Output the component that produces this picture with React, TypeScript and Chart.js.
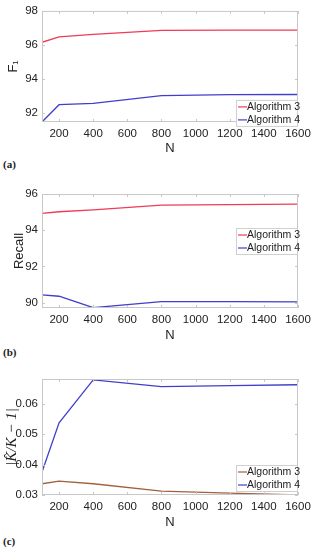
import React, { useEffect, useRef } from "react";
import { Chart, registerables } from "chart.js";

Chart.register(...registerables);

const N = [100, 200, 400, 800, 1200, 1600];
const xTicks = [200, 400, 600, 800, 1000, 1200, 1400, 1600];

const f1Alg3 = [96.15, 96.47, 96.62, 96.85, 96.87, 96.87];
const f1Alg4 = [91.45, 92.47, 92.55, 93.0, 93.06, 93.07];
const f1Ticks = [92, 94, 96, 98];

const recallAlg3 = [94.93, 95.02, 95.12, 95.38, 95.41, 95.44];
const recallAlg4 = [90.43, 90.35, 89.72, 90.05, 90.05, 90.04];
const recallTicks = [90, 92, 94, 96];

const kAlg3 = [0.0337, 0.0346, 0.0337, 0.0313, 0.0306, 0.03];
const kAlg4 = [0.0376, 0.0538, 0.0679, 0.0657, 0.066, 0.0663];
const kTicks = [0.03, 0.04, 0.05, 0.06];

const seriesNames = ["Algorithm 3", "Algorithm 4"];

const RED = "#f03a58";
const BLUE = "#3f3fcc";
const BROWN = "#a2603c";
const FONT = "'Liberation Sans', Arial, sans-serif";

type PanelCfg = {
  a: number[];
  b: number[];
  colorA: string;
  colorB: string;
  yMin: number;
  yMax: number;
  yTicks: number[];
  yTitle: string;
  yTitleFont: any;
  yTitlePad: number;
  tickDecimals: number;
  padTop: number;
  xScaleHeight: number;
  legendTop: number;
  height: number;
};

const framePlugin = {
  id: "frame",
  afterDatasetsDraw(chart: any) {
    const { ctx, chartArea } = chart;
    const { left, right, top, bottom } = chartArea;
    ctx.save();
    ctx.strokeStyle = "#c8c8c8";
    ctx.lineWidth = 1;
    ctx.strokeRect(left + 0.5, top + 0.5, right - left - 1, bottom - top - 1);
    const xs = chart.scales.x;
    const ys = chart.scales.y;
    ctx.beginPath();
    xs.ticks.forEach((t: any) => {
      const px = Math.round(xs.getPixelForValue(t.value)) + 0.5;
      ctx.moveTo(px, bottom);
      ctx.lineTo(px, bottom - 3);
      ctx.moveTo(px, top);
      ctx.lineTo(px, top + 3);
    });
    ys.ticks.forEach((t: any) => {
      const py = Math.round(ys.getPixelForValue(t.value)) + 0.5;
      ctx.moveTo(left, py);
      ctx.lineTo(left + 3, py);
      ctx.moveTo(right, py);
      ctx.lineTo(right - 3, py);
    });
    ctx.stroke();
    ctx.restore();
  },
};

const legendPlugin = {
  id: "boxLegend",
  afterDraw(chart: any) {
    const opts = chart.options.plugins.boxLegend;
    const { ctx, chartArea } = chart;
    const w = 62;
    const h = 27;
    const x = chartArea.right - w;
    const y = chartArea.top + opts.top;
    ctx.save();
    ctx.fillStyle = "#ffffff";
    ctx.fillRect(x, y, w, h);
    ctx.strokeStyle = "#d0d0d0";
    ctx.lineWidth = 1;
    ctx.strokeRect(x + 0.5, y + 0.5, w - 1, h - 1);
    ctx.font = `10.5px ${FONT}`;
    ctx.textBaseline = "middle";
    chart.data.datasets.forEach((ds: any, i: number) => {
      const ry = y + 7 + i * 13;
      ctx.strokeStyle = ds.borderColor;
      ctx.lineWidth = 1.2;
      ctx.beginPath();
      ctx.moveTo(x + 2, ry);
      ctx.lineTo(x + 11, ry);
      ctx.stroke();
      ctx.fillStyle = "#222";
      ctx.fillText(ds.label, x + 11, ry);
    });
    ctx.restore();
  },
};

function Panel({ cfg }: { cfg: PanelCfg }) {
  const ref = useRef<HTMLCanvasElement>(null);
  useEffect(() => {
    if (!ref.current) return;
    const chart = new Chart(ref.current, {
      type: "line",
      data: {
        datasets: [
          {
            label: seriesNames[0],
            data: N.map((n, i) => ({ x: n, y: cfg.a[i] })),
            borderColor: cfg.colorA,
            borderWidth: 1.3,
            pointRadius: 0,
            tension: 0,
          },
          {
            label: seriesNames[1],
            data: N.map((n, i) => ({ x: n, y: cfg.b[i] })),
            borderColor: cfg.colorB,
            borderWidth: 1.3,
            pointRadius: 0,
            tension: 0,
          },
        ],
      },
      options: {
        animation: false,
        responsive: false,
        maintainAspectRatio: false,
        layout: { padding: { top: cfg.padTop, right: 21, left: 0, bottom: 0 } },
        plugins: {
          legend: { display: false },
          tooltip: { enabled: false },
          boxLegend: { top: cfg.legendTop },
        } as any,
        scales: {
          x: {
            type: "linear",
            min: 100,
            max: 1600,
            grid: { display: false, drawTicks: false },
            border: { display: false },
            afterBuildTicks: (s: any) => {
              s.ticks = xTicks.map((v) => ({ value: v }));
            },
            afterFit: (s: any) => {
              s.height = cfg.xScaleHeight;
            },
            ticks: {
              padding: 5,
              color: "#222",
              font: { family: FONT, size: 11.5 },
              maxRotation: 0,
              autoSkip: false,
              callback: (v: any) => String(v),
            },
            title: {
              display: true,
              text: "N",
              color: "#222",
              font: { family: FONT, size: 13 },
              padding: { top: 0, bottom: 0 },
            },
          },
          y: {
            min: cfg.yMin,
            max: cfg.yMax,
            grid: { display: false, drawTicks: false },
            border: { display: false },
            afterBuildTicks: (s: any) => {
              s.ticks = cfg.yTicks.map((v) => ({ value: v }));
            },
            afterFit: (s: any) => {
              s.width = 42;
            },
            ticks: {
              padding: 4,
              color: "#222",
              font: { family: FONT, size: 11.5 },
              callback: (v: any) => Number(v).toFixed(cfg.tickDecimals),
            },
            title: {
              display: true,
              text: cfg.yTitle,
              color: "#222",
              font: cfg.yTitleFont,
              padding: { top: cfg.yTitlePad, bottom: 0 },
            },
          },
        },
      },
      plugins: [framePlugin, legendPlugin],
    });
    return () => chart.destroy();
  }, []);
  return <canvas ref={ref} width={319} height={cfg.height} style={{ display: "block" }} />;
}

const panels: { cfg: PanelCfg; top: number; label: string; labelTop: number }[] = [
  {
    top: 0,
    label: "(a)",
    labelTop: 158,
    cfg: {
      a: f1Alg3,
      b: f1Alg4,
      colorA: RED,
      colorB: BLUE,
      yMin: 91.45,
      yMax: 98,
      yTicks: f1Ticks,
      yTitle: "F₁",
      yTitleFont: { family: FONT, size: 13 },
      yTitlePad: 6,
      tickDecimals: 0,
      padTop: 7,
      xScaleHeight: 34,
      legendTop: 89,
      height: 156,
    },
  },
  {
    top: 170,
    label: "(b)",
    labelTop: 346,
    cfg: {
      a: recallAlg3,
      b: recallAlg4,
      colorA: RED,
      colorB: BLUE,
      yMin: 89.7,
      yMax: 96,
      yTicks: recallTicks,
      yTitle: "Recall",
      yTitleFont: { family: FONT, size: 13 },
      yTitlePad: 12,
      tickDecimals: 0,
      padTop: 24,
      xScaleHeight: 35,
      legendTop: 34,
      height: 173,
    },
  },
  {
    top: 360,
    label: "(c)",
    labelTop: 535,
    cfg: {
      a: kAlg3,
      b: kAlg4,
      colorA: BROWN,
      colorB: BLUE,
      yMin: 0.03,
      yMax: 0.0682,
      yTicks: kTicks,
      yTitle: "|K̂/K − 1|",
      yTitleFont: { family: "'Liberation Serif', serif", size: 15, style: "italic" },
      yTitlePad: 3,
      tickDecimals: 2,
      padTop: 19,
      xScaleHeight: 35,
      legendTop: 86,
      height: 170,
    },
  },
];

export default function App() {
  return (
    <div style={{ position: "absolute", left: 0, top: 0, width: 319, height: 550, background: "#fff" }}>
      {panels.map((p, i) => (
        <React.Fragment key={i}>
          <div style={{ position: "absolute", left: 0, top: p.top }}>
            <Panel cfg={p.cfg} />
          </div>
          <div
            style={{
              position: "absolute",
              left: 3,
              top: p.labelTop,
              fontFamily: "'Liberation Serif', serif",
              fontWeight: "bold",
              fontSize: 11,
              color: "#222",
            }}
          >
            {p.label}
          </div>
        </React.Fragment>
      ))}
    </div>
  );
}
